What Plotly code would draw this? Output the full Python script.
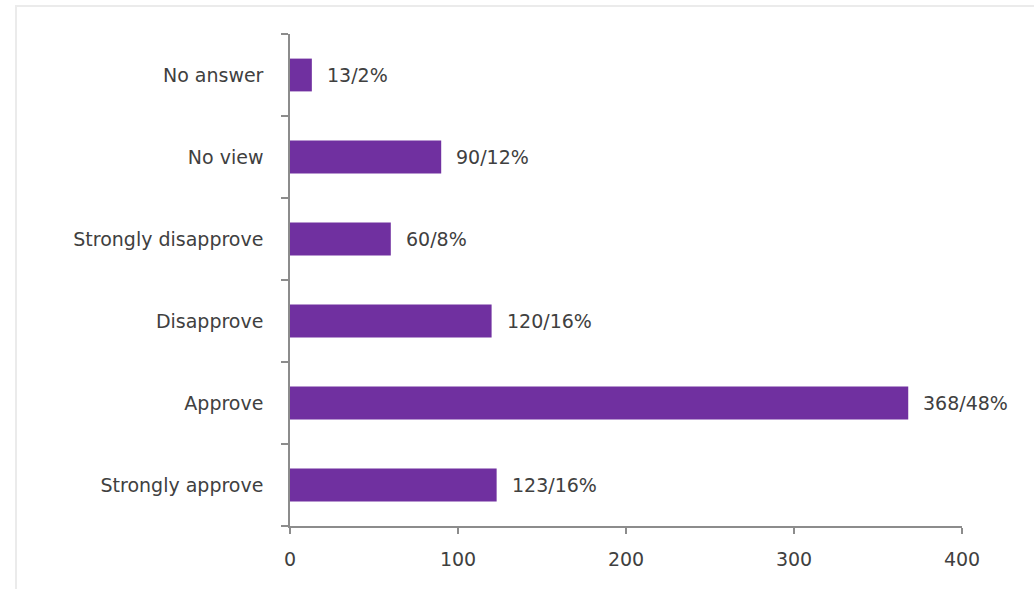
import plotly.graph_objects as go

categories = ["Strongly approve", "Approve", "Disapprove", "Strongly disapprove", "No view", "No answer"]
counts = [123, 368, 120, 60, 90, 13]
percents = [16, 48, 16, 8, 12, 2]
x_ticks = [0, 100, 200, 300, 400]

bar_color = "#7030A0"
text_color = "#404040"
axis_color = "#8c8c8c"
font_family = "'DejaVu Sans', sans-serif"
font_size = 19

labels = [f"{c}/{p}%" for c, p in zip(counts, percents)]

fig = go.Figure()
fig.add_trace(go.Bar(
    x=counts, y=categories, orientation="h",
    marker=dict(color=bar_color, line=dict(width=0)),
    hoverinfo="x+y",
))

for c, cat, lab in zip(counts, categories, labels):
    fig.add_annotation(x=c, y=cat, text=lab, showarrow=False,
                       xanchor="left", xshift=13,
                       font=dict(size=font_size, color=text_color, family=font_family))

# faint outer chart border (top and left edges visible)
fig.add_shape(type="rect", xref="paper", yref="paper",
              x0=(16 - 290) / 672, x1=1.3, y0=-0.3, y1=(526 - 6) / 492,
              line=dict(color="#ebebeb", width=2), fillcolor="rgba(0,0,0,0)", layer="below")

fig.update_layout(
    width=1034, height=589,
    margin=dict(l=290, r=72, t=34, b=63),
    paper_bgcolor="white", plot_bgcolor="white",
    bargap=0.6,
    showlegend=False,
    font=dict(family=font_family, size=font_size, color=text_color),
    xaxis=dict(range=[0, 400], tickvals=x_ticks, showgrid=False, zeroline=False,
               showline=True, linecolor=axis_color, linewidth=1.5,
               ticks="outside", ticklen=6, tickcolor=axis_color, tickwidth=1.5,
               ticklabelstandoff=9,
               tickfont=dict(size=font_size, color=text_color)),
    yaxis=dict(type="category", categoryorder="array", categoryarray=categories,
               showgrid=False, zeroline=False, showline=True, linecolor=axis_color, linewidth=1.5,
               ticks="outside", ticklen=7, tickcolor=axis_color, tickwidth=1.5, tickson="boundaries",
               ticklabelstandoff=21,
               tickfont=dict(size=font_size, color=text_color)),
)

fig.write_html("out.html", config={"displayModeBar": False},
               post_script="document.body.style.margin='0';")
